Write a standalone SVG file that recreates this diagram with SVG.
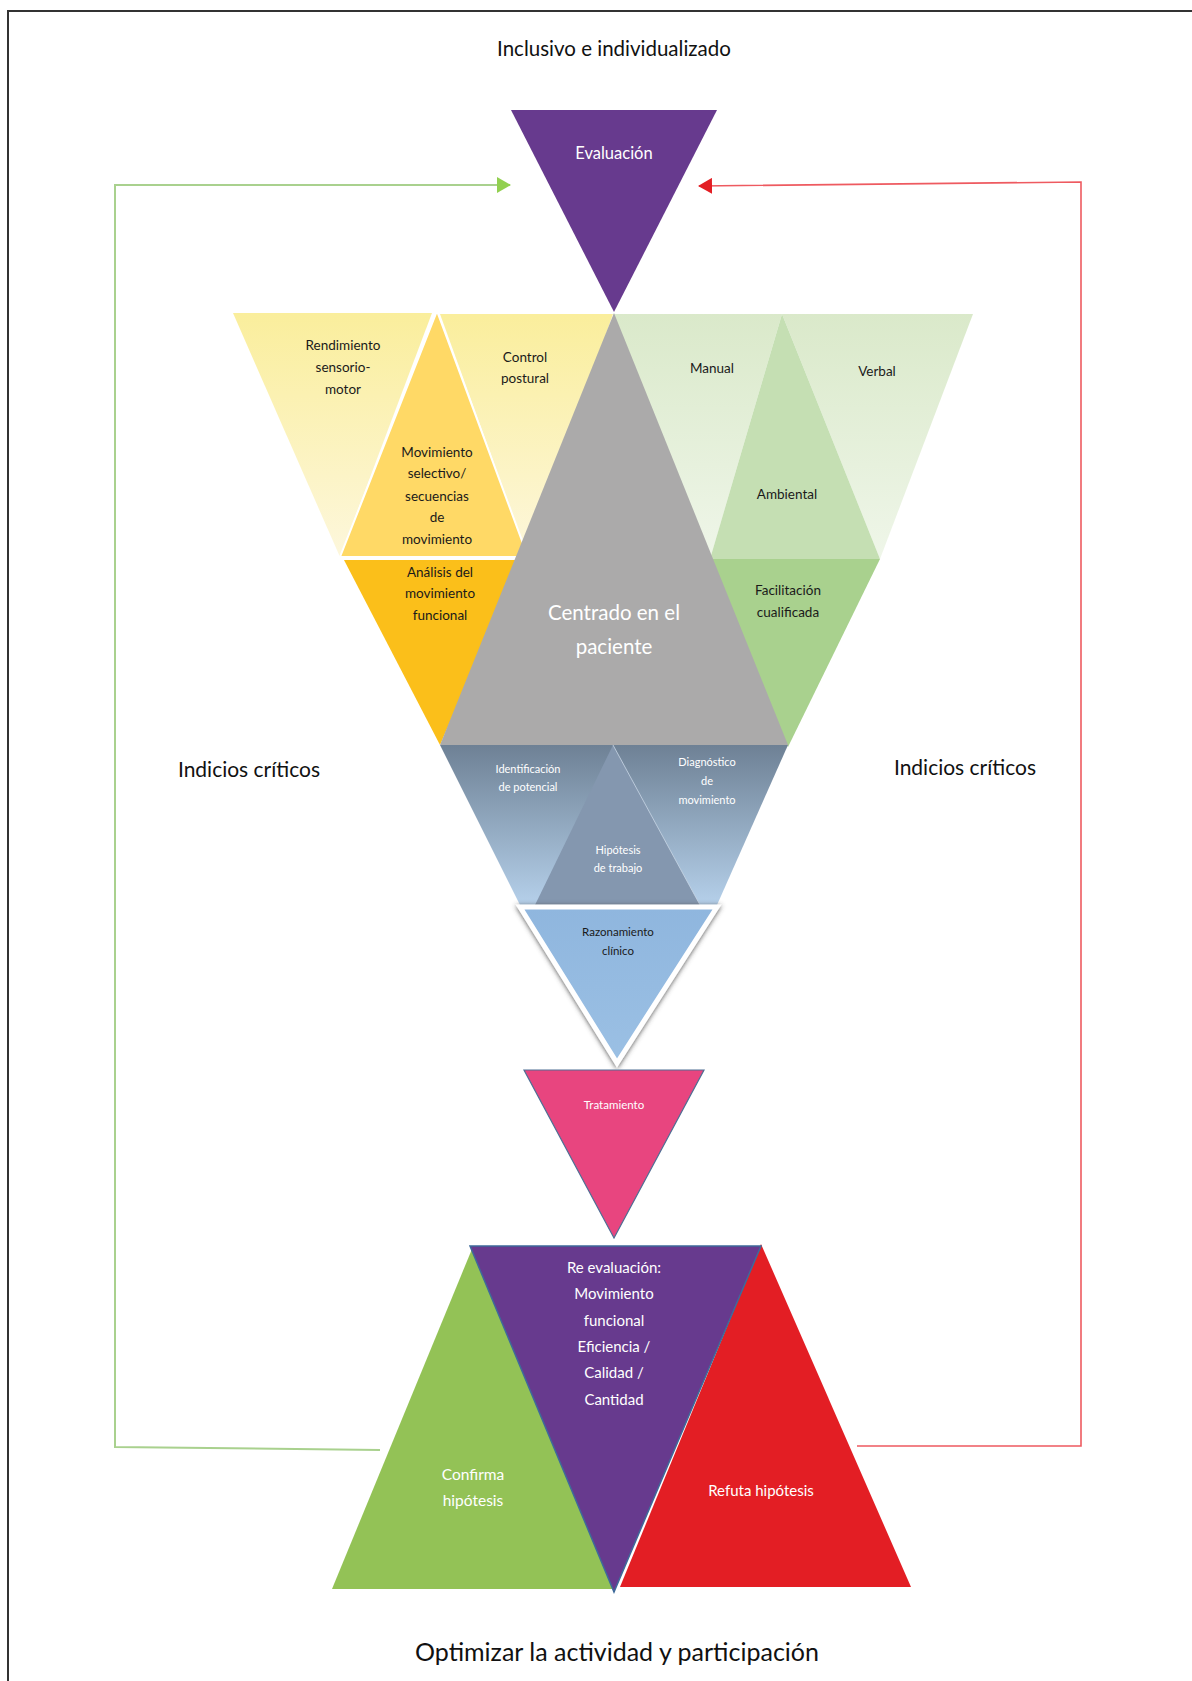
<svg xmlns="http://www.w3.org/2000/svg" width="1192" height="1681" viewBox="0 0 1192 1681">
<style>
text{font-family:Lato,"Open Sans","Liberation Sans",sans-serif;text-anchor:middle}
.dk{fill:#1a1a1a}
.wt{fill:#ffffff}
.big{font-size:21px;fill:#111}
.sm{font-size:13.5px}
.xs{font-size:11px}
</style>
<defs>
<linearGradient id="gY" x1="0" y1="0" x2="0" y2="1"><stop offset="0" stop-color="#FAEE9C"/><stop offset="1" stop-color="#FDF7DC"/></linearGradient>
<linearGradient id="gG" x1="0" y1="0" x2="0" y2="1"><stop offset="0" stop-color="#DAE9CA"/><stop offset="1" stop-color="#EFF6E9"/></linearGradient>
<linearGradient id="gB" x1="0" y1="0" x2="0" y2="1"><stop offset="0" stop-color="#6E8195"/><stop offset="1" stop-color="#B5D0EA"/></linearGradient>
<linearGradient id="gR" x1="0" y1="0" x2="0" y2="1"><stop offset="0" stop-color="#8FB6DE"/><stop offset="1" stop-color="#9BC0E4"/></linearGradient>
<marker id="aG" viewBox="0 0 14 16" refX="13" refY="8" markerWidth="14" markerHeight="16" markerUnits="userSpaceOnUse" orient="auto"><path d="M0,0 L14,8 L0,16 Z" fill="#92D050"/></marker>
<marker id="aR" viewBox="0 0 14 16" refX="13" refY="8" markerWidth="14" markerHeight="16" markerUnits="userSpaceOnUse" orient="auto"><path d="M0,0 L14,8 L0,16 Z" fill="#E31E24"/></marker>
<filter id="sh" x="-20%" y="-20%" width="140%" height="140%"><feGaussianBlur in="SourceAlpha" stdDeviation="2.5"/><feOffset dx="0" dy="1" result="b"/><feFlood flood-color="#444" flood-opacity="0.9"/><feComposite in2="b" operator="in"/><feMerge><feMergeNode/><feMergeNode in="SourceGraphic"/></feMerge></filter>
</defs>
<rect width="1192" height="1681" fill="#ffffff"/>
<path d="M8,1681 L8,11 L1192,11" fill="none" stroke="#333" stroke-width="2"/>

<g id="title"><text x="614" y="56" style="font-size:20.5px;fill:#111">Inclusivo e individualizado</text></g>

<g id="connectors" fill="none">
<polyline points="380,1450 115,1447 115,185 510,185" stroke="#A9D18E" stroke-width="2" marker-end="url(#aG)"/>
<polyline points="857,1446 1081,1446 1081,182 699,186" stroke="#EE5A60" stroke-width="1.6" marker-end="url(#aR)"/>
</g>

<g id="evaluacion">
<polygon points="511,110 717,110 614,312" fill="#673A8E"/>
<text class="wt" x="614" y="159" style="font-size:16.5px">Evaluación</text>
</g>

<g id="rendimiento">
<polygon points="233,313 432,313 340,557" fill="url(#gY)"/>
<text class="dk sm" x="343" y="350">Rendimiento</text>
<text class="dk sm" x="343" y="372">sensorio-</text>
<text class="dk sm" x="343" y="394">motor</text>
</g>
<g id="control-postural">
<polygon points="440,314 613,314 528,557" fill="url(#gY)"/>
<text class="dk sm" x="525" y="362">Control</text>
<text class="dk sm" x="525" y="383">postural</text>
</g>
<g id="movimiento-selectivo">
<polygon points="437,311 340,557 528,557" fill="#FFD966" stroke="#ffffff" stroke-width="2"/>
<text class="dk sm" x="437" y="457">Movimiento</text>
<text class="dk sm" x="437" y="478">selectivo/</text>
<text class="dk sm" x="437" y="501">secuencias</text>
<text class="dk sm" x="437" y="522">de</text>
<text class="dk sm" x="437" y="544">movimiento</text>
</g>
<g id="analisis">
<polygon points="344,560 520,560 440,745" fill="#FBBF1A"/>
<text class="dk sm" x="440" y="577">Análisis del</text>
<text class="dk sm" x="440" y="598">movimiento</text>
<text class="dk sm" x="440" y="620">funcional</text>
</g>

<g id="manual">
<polygon points="613,314 782,314 710,559" fill="url(#gG)"/>
<text class="dk sm" x="712" y="373">Manual</text>
</g>
<g id="verbal">
<polygon points="782,314 973,314 880,559" fill="url(#gG)"/>
<text class="dk sm" x="877" y="376">Verbal</text>
</g>
<g id="ambiental">
<polygon points="782,314 710,559 880,559" fill="#C5DFB3"/>
<text class="dk sm" x="787" y="499">Ambiental</text>
</g>
<g id="facilitacion">
<polygon points="710,559 880,559 788,747" fill="#A9D18E"/>
<text class="dk sm" x="788" y="595">Facilitación</text>
<text class="dk sm" x="788" y="617">cualificada</text>
</g>

<g id="centrado">
<polygon points="614,313 440,745 788,745" fill="#ABAAAA"/>
<text class="wt" x="614" y="620" style="font-size:20.5px">Centrado en el</text>
<text class="wt" x="614" y="654" style="font-size:20.5px">paciente</text>
</g>

<g id="identificacion-diagnostico">
<polygon points="440,745 788,745 717,905 520,905" fill="url(#gB)"/>
<text class="wt xs" x="528" y="773">Identificación</text>
<text class="wt xs" x="528" y="791">de potencial</text>
<text class="wt xs" x="707" y="766">Diagnóstico</text>
<text class="wt xs" x="707" y="785">de</text>
<text class="wt xs" x="707" y="804">movimiento</text>
</g>
<g id="hipotesis-trabajo">
<polygon points="613,745 535,905 700,905" fill="#8497AF"/>
<line x1="613" y1="745" x2="700" y2="905" stroke="#C9D7E6" stroke-width="0.8"/>
<text class="wt xs" x="618" y="854">Hipótesis</text>
<text class="wt xs" x="618" y="872">de trabajo</text>
</g>
<g id="razonamiento">
<polygon points="520,907 717,907 617,1063" fill="url(#gR)" stroke="#ffffff" stroke-width="5" stroke-linejoin="miter" filter="url(#sh)"/>
<text class="dk" x="618" y="936" style="font-size:11.5px">Razonamiento</text>
<text class="dk" x="618" y="955" style="font-size:11.5px">clínico</text>
</g>

<g id="tratamiento">
<polygon points="524,1070 704,1070 614,1238" fill="#E8457F" stroke="#4F6E94" stroke-width="1.2"/>
<text class="wt" x="614" y="1109" style="font-size:11.5px">Tratamiento</text>
</g>

<g id="confirma">
<polygon points="472,1249 332,1589 614,1589" fill="#93C256"/>
<text class="wt" x="473" y="1480" style="font-size:15.5px">Confirma</text>
<text class="wt" x="473" y="1506" style="font-size:15.5px">hipótesis</text>
</g>
<g id="refuta">
<polygon points="761,1244 620,1587 911,1587" fill="#E31E24"/>
<text class="wt" x="761" y="1496" style="font-size:15px">Refuta hipótesis</text>
</g>
<g id="reevaluacion">
<polygon points="470,1246 761,1246 614,1592" fill="#673A8E" stroke="#3E6A9A" stroke-width="1.5"/>
<text class="wt" x="614" y="1273" style="font-size:15px">Re evaluación:</text>
<text class="wt" x="614" y="1299" style="font-size:15px">Movimiento</text>
<text class="wt" x="614" y="1326" style="font-size:15px">funcional</text>
<text class="wt" x="614" y="1352" style="font-size:15px">Eficiencia /</text>
<text class="wt" x="614" y="1378" style="font-size:15px">Calidad /</text>
<text class="wt" x="614" y="1405" style="font-size:15px">Cantidad</text>
</g>

<g id="indicios-izq"><text class="big" x="249" y="777">Indicios críticos</text></g>
<g id="indicios-der"><text class="big" x="965" y="775">Indicios críticos</text></g>
<g id="footer"><text x="617" y="1661" style="font-size:25px;fill:#111">Optimizar la actividad y participación</text></g>
</svg>
